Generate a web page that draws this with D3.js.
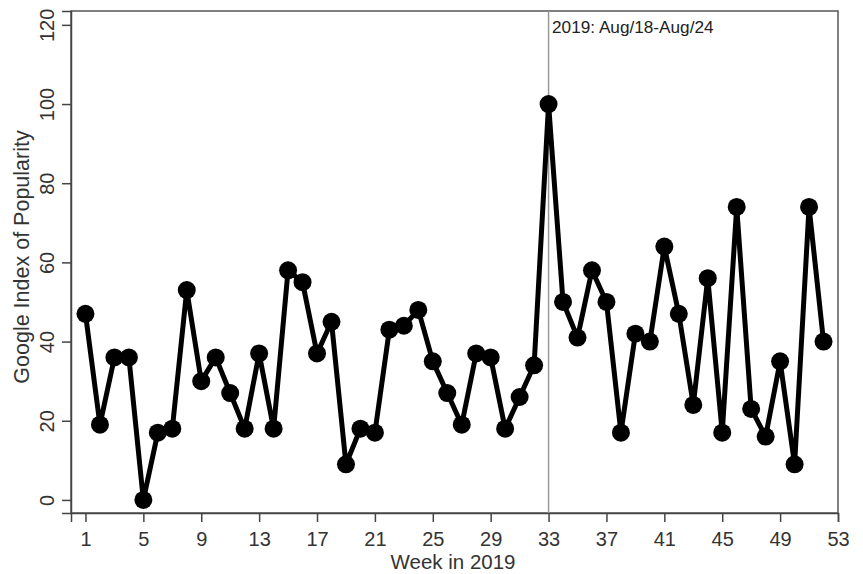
<!DOCTYPE html>
<html>
<head>
<meta charset="utf-8">
<script src="https://cdn.jsdelivr.net/npm/d3@7"></script>
<style>
  body { margin: 0; background: #fff; }
  svg { font-family: "Liberation Sans", Arial, sans-serif; }
</style>
</head>
<body>
<div class="chart"></div>
<script>
// weekly Google index, 2019
const weeks = d3.range(1, 53)
const popularity = [47, 19, 36, 36, 0, 17, 18, 53, 30, 36, 27, 18, 37, 18, 58, 55,
  37, 45, 9, 18, 17, 43, 44, 48, 35, 27, 19, 37, 36, 18, 26, 34,
  100, 50, 41, 58, 50, 17, 42, 40, 64, 47, 24, 56, 17, 74, 23, 16, 35, 9, 74, 40]
const xTicks = [1, 5, 9, 13, 17, 21, 25, 29, 33, 37, 41, 45, 49, 53]
const yTicks = [0, 20, 40, 60, 80, 100, 120]
const markWeek = 33
const markLabel = '2019: Aug/18-Aug/24'

const width = 863
const height = 574
const margin = { top: 11, right: 25, bottom: 61, left: 71 }

const dataset = weeks.map((w, i) => [w, popularity[i]])

const xScale = d3.scaleLinear()
  .domain([0, 53])
  .range([margin.left, width - margin.right])

const yScale = d3.scaleLinear()
  .domain([-3.3, 123.5])
  .range([height - margin.bottom, margin.top])

const svg = d3.select('.chart')
  .append('svg')
  .attr('width', width)
  .attr('height', height)

// plot frame
svg.append('rect')
  .attr('x', margin.left)
  .attr('y', margin.top)
  .attr('width', width - margin.left - margin.right)
  .attr('height', height - margin.top - margin.bottom)
  .attr('fill', 'none')
  .attr('stroke', '#555')
  .attr('stroke-width', 1.5)

const xAxis = d3.axisBottom(xScale).tickValues(xTicks).tickSize(9).tickPadding(9.5)
const yAxis = d3.axisLeft(yScale).tickValues(yTicks).tickSize(9)

const gx = svg.append('g')
  .attr('transform', `translate(0,${height - margin.bottom})`)
  .call(xAxis)
gx.select('.domain').attr('stroke', '#444').attr('stroke-width', 1.5)
gx.selectAll('.tick line').attr('stroke', '#444').attr('stroke-width', 1.5)
gx.selectAll('.tick text')
  .attr('font-size', 20)
  .attr('fill', '#333')
  .attr('font-family', '"Liberation Sans", Arial, sans-serif')

const gy = svg.append('g')
  .attr('transform', `translate(${margin.left},0)`)
  .call(yAxis)
gy.select('.domain').attr('stroke', '#444').attr('stroke-width', 1.5)
gy.selectAll('.tick line').attr('stroke', '#444').attr('stroke-width', 1.5)
gy.selectAll('.tick text')
  .attr('transform', 'rotate(-90)')
  .attr('x', 0)
  .attr('y', -17)
  .attr('dy', 0)
  .attr('text-anchor', 'middle')
  .attr('font-size', 20)
  .attr('fill', '#333')
  .attr('font-family', '"Liberation Sans", Arial, sans-serif')

// axis titles
svg.append('text')
  .attr('x', 453)
  .attr('y', 569)
  .attr('text-anchor', 'middle')
  .attr('font-size', 20.5)
  .attr('fill', '#333')
  .text('Week in 2019')

svg.append('text')
  .attr('transform', 'translate(28.5,257) rotate(-90)')
  .attr('text-anchor', 'middle')
  .attr('font-size', 21.5)
  .attr('fill', '#333')
  .text('Google Index of Popularity')

// reference line
svg.append('line')
  .attr('x1', xScale(markWeek))
  .attr('x2', xScale(markWeek))
  .attr('y1', margin.top)
  .attr('y2', height - margin.bottom)
  .attr('stroke', '#999')
  .attr('stroke-width', 1.5)

svg.append('text')
  .attr('x', xScale(markWeek) + 3.5)
  .attr('y', 33)
  .attr('font-size', 17.2)
  .attr('fill', '#222')
  .text(markLabel)

const line = d3.line()
  .x(d => xScale(d[0]))
  .y(d => yScale(d[1]))

svg.append('path')
  .datum(dataset)
  .attr('d', line)
  .attr('fill', 'none')
  .attr('stroke', '#000')
  .attr('stroke-width', 5)
  .attr('stroke-linejoin', 'round')

svg.selectAll('circle')
  .data(dataset)
  .enter()
  .append('circle')
  .attr('cx', d => xScale(d[0]))
  .attr('cy', d => yScale(d[1]))
  .attr('r', 9)
  .attr('fill', '#000')
</script>
</body>
</html>
